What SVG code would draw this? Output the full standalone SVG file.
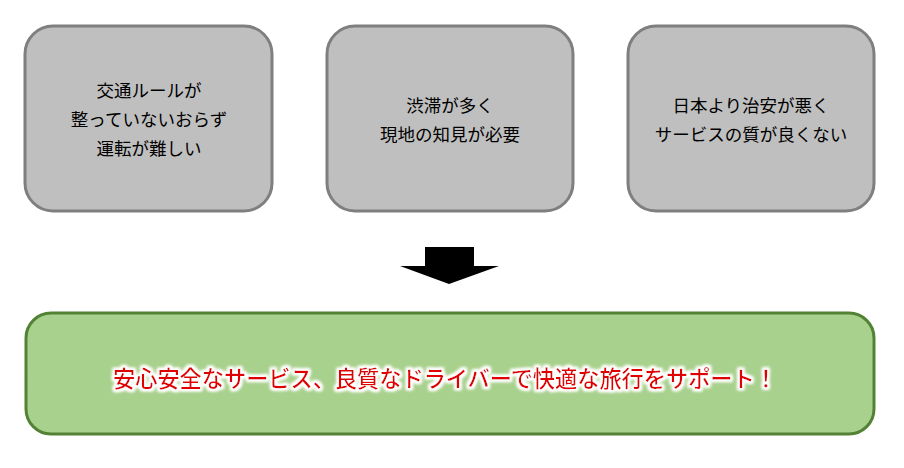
<svg xmlns="http://www.w3.org/2000/svg" width="904" height="468" viewBox="0 0 904 468">
<defs>
<filter id="glow" x="-5%" y="-30%" width="110%" height="160%">
<feMorphology in="SourceAlpha" operator="dilate" radius="1.5" result="d"/>
<feGaussianBlur in="d" stdDeviation="1.5" result="b"/>
<feFlood flood-color="#ffffff"/>
<feComposite in2="b" operator="in" result="w"/>
<feMerge><feMergeNode in="w"/><feMergeNode in="w"/><feMergeNode in="SourceGraphic"/></feMerge>
</filter>
</defs>
<style>
.box{fill:#bfbfbf;stroke:#7f7f7f;stroke-width:3}
.t{font-family:"Noto Sans CJK JP","Noto Sans CJK SC",sans-serif;font-size:17.5px;fill:#000;text-anchor:middle;dominant-baseline:central}
.g{fill:#a9d18e;stroke:#548235;stroke-width:3}
.r{font-family:"Noto Sans CJK JP","Noto Sans CJK SC",sans-serif;font-size:22.2px;font-weight:500;fill:#e00000;text-anchor:middle;dominant-baseline:central}
</style>
<g id="node1">
<rect class="box" x="25" y="26" width="247" height="185" rx="28"/>
<text class="t" x="149" y="89">交通ルールが</text>
<text class="t" x="149" y="118">整っていないおらず</text>
<text class="t" x="149" y="147">運転が難しい</text>
</g>
<g id="node2">
<rect class="box" x="327" y="26" width="246" height="185" rx="28"/>
<text class="t" x="450" y="104">渋滞が多く</text>
<text class="t" x="450" y="133">現地の知見が必要</text>
</g>
<g id="node3">
<rect class="box" x="628" y="26" width="246" height="185" rx="28"/>
<text class="t" x="751" y="104">日本より治安が悪く</text>
<text class="t" x="751" y="133">サービスの質が良くない</text>
</g>
<g id="connectors">
<polygon points="425,247 474,247 474,266 499,266 449,284 400,266 425,266" fill="#000"/>
</g>
<g id="result">
<rect class="g" x="26" y="313" width="848" height="121" rx="25"/>
<text class="r" x="445" y="377" filter="url(#glow)">安心安全なサービス、良質なドライバーで快適な旅行をサポート！</text>
</g>
</svg>
